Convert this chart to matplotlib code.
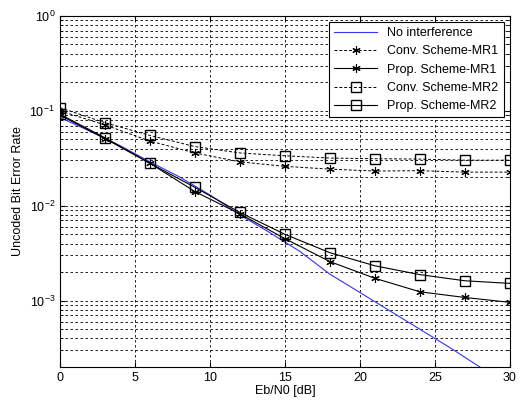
import matplotlib
matplotlib.use('Agg')
import matplotlib.pyplot as plt

plt.rcParams['font.family'] = ['Liberation Sans', 'DejaVu Sans']
plt.rcParams['font.size'] = 9

snr = [0, 3, 6, 9, 12, 15, 18, 21, 24, 27, 30]
snr_ref = [0, 2, 4, 6, 8, 10, 12, 14, 16, 18, 20, 22, 24, 26, 28, 30]

ber_noint = [0.085, 0.061, 0.043, 0.029, 0.020, 0.0130, 0.0080, 0.0052, 0.0033,
             0.0019, 0.00122, 0.00078, 0.00050, 0.00032, 0.00020, 0.000128]
ber_conv1 = [0.100, 0.071, 0.048, 0.036, 0.029, 0.026, 0.0243, 0.0232, 0.0234, 0.0226, 0.0226]
ber_prop1 = [0.090, 0.051, 0.028, 0.0141, 0.0082, 0.0045, 0.00258, 0.00172, 0.00124, 0.00108, 0.00096]
ber_conv2 = [0.108, 0.075, 0.055, 0.042, 0.036, 0.0336, 0.0318, 0.0313, 0.0310, 0.0302, 0.0302]
ber_prop2 = [0.092, 0.052, 0.028, 0.0156, 0.0085, 0.0050, 0.0032, 0.00233, 0.00188, 0.00162, 0.00152]

fig = plt.figure(figsize=(5.24, 4.08), dpi=100)
ax = fig.add_axes([0.1145, 0.1005, 0.8585, 0.8605])

ast = (6, 2, 0)  # matlab style asterisk
ax.semilogy(snr_ref, ber_noint, color='#3333ff', lw=0.8, label='No interference')
ax.semilogy(snr, ber_conv1, 'k--', marker=ast, ms=6, mew=0.8, lw=0.7, dashes=(3, 2), label='Conv. Scheme-MR1')
ax.semilogy(snr, ber_prop1, 'k-', marker=ast, ms=6, mew=0.8, lw=0.8, label='Prop. Scheme-MR1')
ax.semilogy(snr, ber_conv2, 'k--', marker='s', ms=7, mfc='none', lw=0.7, dashes=(3, 2), label='Conv. Scheme-MR2')
ax.semilogy(snr, ber_prop2, 'k-', marker='s', ms=7, mfc='none', lw=0.8, label='Prop. Scheme-MR2')

ax.set_xlim(0, 30)
ax.set_ylim(2e-4, 1)
ax.set_xticks([0, 5, 10, 15, 20, 25, 30])
ax.grid(True, which='major', color='k', ls=(0, (3, 3)), lw=0.6)
ax.grid(True, which='minor', axis='y', color='k', ls=(0, (3, 3)), lw=0.6)
ax.tick_params(which='both', direction='in', top=True, right=True)
ax.set_xlabel('Eb/N0 [dB]', labelpad=1)
ax.set_ylabel('Uncoded Bit Error Rate')

leg = ax.legend(loc='upper right', fancybox=False, framealpha=1, edgecolor='k',
                fontsize=9, handlelength=3.5, borderaxespad=0.5, labelspacing=0.5)
leg.get_frame().set_linewidth(0.8)

fig.savefig('out.png', dpi=100)
